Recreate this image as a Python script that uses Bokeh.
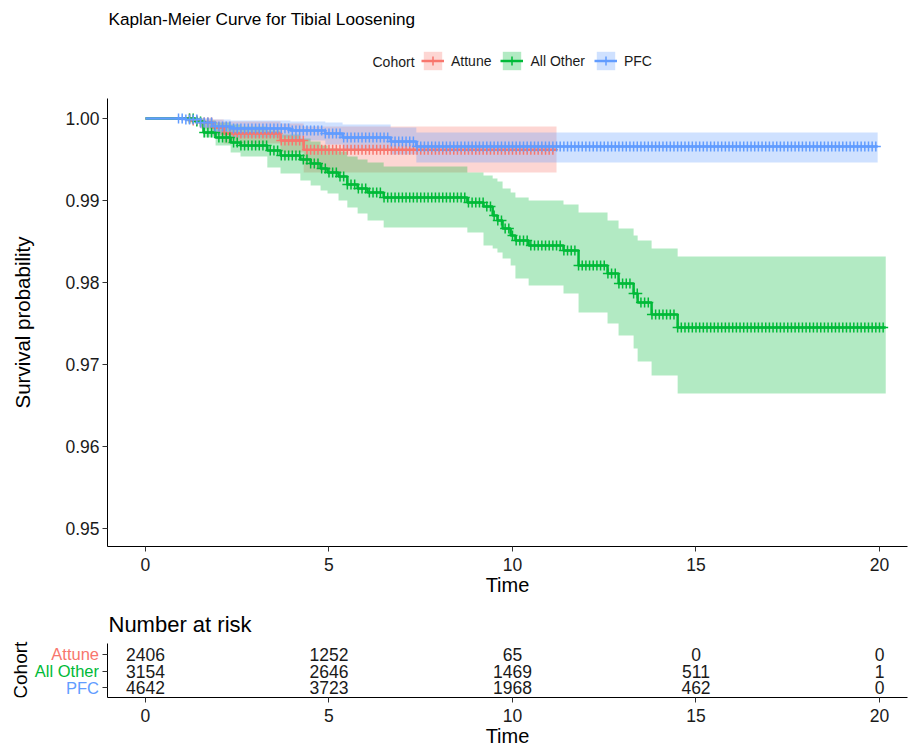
import numpy as np
from bokeh.plotting import figure
from bokeh.models import Range1d, FixedTicker, Label, Legend, LegendItem, ColumnDataSource, PrintfTickFormatter
from bokeh.layouts import column, row
from bokeh.embed import file_html
from bokeh.resources import INLINE
from bokeh.core.properties import value

FONT = "Liberation Sans"

# ---------------- data ----------------
cohorts = ["Attune", "All Other", "PFC"]
colors = {"Attune": "#F8766D", "All Other": "#00BA38", "PFC": "#619CFF"}

attune_time = [0, 1.23, 1.50, 1.83, 2.13, 3.68, 4.31, 11.20]
attune_surv = [1.0, 0.99976, 0.99951, 0.9989, 0.99817, 0.99732, 0.9962, 0.9962]
attune_lower = [1.0, 0.9994, 0.99878, 0.99793, 0.99695, 0.99585, 0.99341, 0.99341]
attune_upper = [1.0, 1.0, 1.0, 0.99988, 0.99963, 0.9994, 0.99902, 0.99902]

allother_time = [0, 1.36, 1.58, 1.91, 2.32, 2.59, 3.32, 3.68, 4.22, 4.50, 4.77, 4.96, 5.26, 5.50,
                 5.78, 6.05, 6.49, 8.77, 9.21, 9.46, 9.59, 9.73, 9.95, 10.08, 10.44, 11.39, 11.80,
                 12.59, 12.89, 13.30, 13.41, 13.79, 14.50, 20.17]
allother_surv = [1.0, 0.99963, 0.99829, 0.99768, 0.99707, 0.99671, 0.9961, 0.99549, 0.995, 0.99451,
                 0.9939, 0.99341, 0.99293, 0.99195, 0.99146, 0.99098, 0.99037, 0.98976, 0.98927,
                 0.98817, 0.98756, 0.98659, 0.98573, 0.98512, 0.98451, 0.9839, 0.98207, 0.9811,
                 0.97988, 0.97866, 0.97756, 0.9761, 0.97451, 0.97451]
allother_lower = [1.0, 0.9994, 0.99768, 0.99671, 0.99585, 0.99537, 0.99402, 0.99329, 0.99244, 0.99183,
                  0.99122, 0.99085, 0.99, 0.98915, 0.98841, 0.98756, 0.98671, 0.9861, 0.98451,
                  0.98415, 0.98366, 0.98293, 0.98207, 0.98049, 0.97963, 0.97866, 0.97634, 0.975,
                  0.97354, 0.97195, 0.97037, 0.96866, 0.96646, 0.96646]
allother_upper = [1.0, 1.0, 0.99976, 0.99951, 0.99927, 0.99902, 0.99854, 0.99805, 0.99756, 0.9972,
                  0.99671, 0.99634, 0.99598, 0.99537, 0.995, 0.99463, 0.99415, 0.99341, 0.99305,
                  0.99268, 0.99232, 0.99146, 0.99098, 0.99037, 0.99, 0.98951, 0.98854, 0.98756,
                  0.98659, 0.98573, 0.98512, 0.98415, 0.98317, 0.98317]

pfc_time = [0, 1.09, 1.50, 1.83, 2.32, 3.95, 4.90, 5.37, 6.68, 7.38, 19.95]
pfc_surv = [1.0, 0.99988, 0.99951, 0.99902, 0.99878, 0.99854, 0.99817, 0.99768, 0.9972, 0.99659, 0.99659]
pfc_lower = [1.0, 0.9996, 0.99878, 0.99805, 0.99768, 0.99732, 0.99683, 0.99622, 0.99561, 0.99463, 0.99463]
pfc_upper = [1.0, 1.0, 1.0, 0.99988, 0.99976, 0.99963, 0.99951, 0.99927, 0.9989, 0.9983, 0.9983]

attune_censor = [
    1.2, 1.3, 1.4, 1.5, 1.6, 1.7, 1.8, 1.9,
    2.0, 2.1, 2.2, 2.3, 2.4, 2.5, 2.6, 2.7, 2.8, 2.9,
    3.0, 3.1, 3.2, 3.3, 3.4, 3.5, 3.6, 3.7, 3.8, 3.9,
    4.0, 4.1, 4.2, 4.3, 4.4, 4.5, 4.6, 4.7, 4.8, 4.9,
    5.0, 5.1, 5.2, 5.3, 5.4, 5.5, 5.6, 5.7, 5.8, 5.9,
    6.0, 6.1, 6.2, 6.3, 6.4, 6.5, 6.6, 6.7, 6.8, 6.9,
    7.0, 7.1, 7.2, 7.3, 7.4, 7.5, 7.6, 7.7, 7.8, 7.9,
    8.0, 8.1, 8.2, 8.3, 8.4, 8.5, 8.6, 8.7, 8.8, 8.9,
    9.0, 9.1, 9.2, 9.3, 9.4, 9.5, 9.6, 9.7, 9.8, 9.9,
    10.0, 10.1, 10.2, 10.3, 10.4, 10.5, 10.6, 10.7, 10.8, 10.9,
    11.0, 11.1]
allother_censor = [
    1.2, 1.3, 1.4, 1.5, 1.6, 1.7, 1.8, 1.9,
    2.0, 2.1, 2.2, 2.3, 2.4, 2.5, 2.6, 2.7, 2.8, 2.9,
    3.0, 3.1, 3.2, 3.3, 3.4, 3.5, 3.6, 3.7, 3.8, 3.9,
    4.0, 4.1, 4.2, 4.3, 4.4, 4.5, 4.6, 4.7, 4.8, 4.9,
    5.0, 5.1, 5.2, 5.3, 5.4, 5.5, 5.6, 5.7, 5.8, 5.9,
    6.0, 6.1, 6.2, 6.3, 6.4, 6.5, 6.6, 6.7, 6.8, 6.9,
    7.0, 7.1, 7.2, 7.3, 7.4, 7.5, 7.6, 7.7, 7.8, 7.9,
    8.0, 8.1, 8.2, 8.3, 8.4, 8.5, 8.6, 8.7, 8.8, 8.9,
    9.0, 9.1, 9.2, 9.3, 9.4, 9.5, 9.6, 9.7, 9.8, 9.9,
    10.0, 10.1, 10.2, 10.3, 10.4, 10.5, 10.6, 10.7, 10.8, 10.9,
    11.0, 11.1, 11.2, 11.3, 11.4, 11.5, 11.6, 11.7, 11.8, 11.9,
    12.0, 12.1, 12.2, 12.3, 12.4, 12.5, 12.6, 12.7, 12.8, 12.9,
    13.0, 13.1, 13.2, 13.3, 13.4, 13.5, 13.6, 13.7, 13.8, 13.9,
    14.0, 14.1, 14.2, 14.3, 14.4, 14.5, 14.6, 14.7, 14.8, 14.9,
    15.0, 15.1, 15.2, 15.3, 15.4, 15.5, 15.6, 15.7, 15.8, 15.9,
    16.0, 16.1, 16.2, 16.3, 16.4, 16.5, 16.6, 16.7, 16.8, 16.9,
    17.0, 17.1, 17.2, 17.3, 17.4, 17.5, 17.6, 17.7, 17.8, 17.9,
    18.0, 18.1, 18.2, 18.3, 18.4, 18.5, 18.6, 18.7, 18.8, 18.9,
    19.0, 19.1, 19.2, 19.3, 19.4, 19.5, 19.6, 19.7, 19.8, 19.9,
    20.0, 20.1]
pfc_censor = [
    0.9, 1.0, 1.1, 1.2, 1.3, 1.4, 1.5, 1.6, 1.7, 1.8, 1.9,
    2.0, 2.1, 2.2, 2.3, 2.4, 2.5, 2.6, 2.7, 2.8, 2.9,
    3.0, 3.1, 3.2, 3.3, 3.4, 3.5, 3.6, 3.7, 3.8, 3.9,
    4.0, 4.1, 4.2, 4.3, 4.4, 4.5, 4.6, 4.7, 4.8, 4.9,
    5.0, 5.1, 5.2, 5.3, 5.4, 5.5, 5.6, 5.7, 5.8, 5.9,
    6.0, 6.1, 6.2, 6.3, 6.4, 6.5, 6.6, 6.7, 6.8, 6.9,
    7.0, 7.1, 7.2, 7.3, 7.4, 7.5, 7.6, 7.7, 7.8, 7.9,
    8.0, 8.1, 8.2, 8.3, 8.4, 8.5, 8.6, 8.7, 8.8, 8.9,
    9.0, 9.1, 9.2, 9.3, 9.4, 9.5, 9.6, 9.7, 9.8, 9.9,
    10.0, 10.1, 10.2, 10.3, 10.4, 10.5, 10.6, 10.7, 10.8, 10.9,
    11.0, 11.1, 11.2, 11.3, 11.4, 11.5, 11.6, 11.7, 11.8, 11.9,
    12.0, 12.1, 12.2, 12.3, 12.4, 12.5, 12.6, 12.7, 12.8, 12.9,
    13.0, 13.1, 13.2, 13.3, 13.4, 13.5, 13.6, 13.7, 13.8, 13.9,
    14.0, 14.1, 14.2, 14.3, 14.4, 14.5, 14.6, 14.7, 14.8, 14.9,
    15.0, 15.1, 15.2, 15.3, 15.4, 15.5, 15.6, 15.7, 15.8, 15.9,
    16.0, 16.1, 16.2, 16.3, 16.4, 16.5, 16.6, 16.7, 16.8, 16.9,
    17.0, 17.1, 17.2, 17.3, 17.4, 17.5, 17.6, 17.7, 17.8, 17.9,
    18.0, 18.1, 18.2, 18.3, 18.4, 18.5, 18.6, 18.7, 18.8, 18.9,
    19.0, 19.1, 19.2, 19.3, 19.4, 19.5, 19.6, 19.7, 19.8, 19.9]

risk_times = [0, 5, 10, 15, 20]
risk_attune = [2406, 1252, 65, 0, 0]
risk_allother = [3154, 2646, 1469, 511, 1]
risk_pfc = [4642, 3723, 1968, 462, 0]

x_ticks = [0, 5, 10, 15, 20]
y_ticks = [0.95, 0.96, 0.97, 0.98, 0.99, 1.00]

series = {
    "Attune": (attune_time, attune_surv, attune_lower, attune_upper, attune_censor),
    "All Other": (allother_time, allother_surv, allother_lower, allother_upper, allother_censor),
    "PFC": (pfc_time, pfc_surv, pfc_lower, pfc_upper, pfc_censor),
}
risk_rows = {"Attune": (3, risk_attune), "All Other": (2, risk_allother), "PFC": (1, risk_pfc)}


# ---------------- styling helpers ----------------
def style_axes(fig):
    fig.grid.visible = False
    fig.outline_line_color = None
    for ax in fig.axis:
        ax.axis_line_color = "black"
        ax.axis_line_width = 1
        ax.major_tick_line_color = "#333333"
        ax.major_tick_out = 5
        ax.major_tick_in = 0
        ax.minor_tick_line_color = None
        ax.major_label_text_font = FONT
        ax.major_label_text_font_size = "17.5px"
        ax.major_label_text_color = "#1a1a1a"
        ax.major_label_standoff = 3
        ax.axis_label_text_font = FONT
        ax.axis_label_text_font_size = "20px"
        ax.axis_label_text_font_style = "normal"
        ax.axis_label_text_color = "black"


def add_label(fig, text, x, y, size, color="black", align="left"):
    fig.add_layout(Label(x=x, y=y, x_units="screen", y_units="screen", text=text,
                         text_font=FONT, text_font_size=size, text_color=color,
                         text_align=align, text_baseline="middle"))


def strip_figure(width, height, y_range, border_bottom):
    f = figure(width=width, height=height, x_range=Range1d(0, width), y_range=y_range,
               output_backend="svg", toolbar_location=None,
               x_axis_location=None, y_axis_location=None,
               min_border_left=0, min_border_right=0, min_border_top=0,
               min_border_bottom=border_bottom)
    f.grid.visible = False
    f.outline_line_color = None
    return f


X0, X1 = -1.035, 20.763
H_MAIN, H_RISK = 605, 146
Y_BOT, Y_AXIS_TOP = 0.947805, 1.002439
PX_PER_Y = 8200.0
FRAME_H = 546  # frame spans from the canvas top to the x axis; header lives inside it
STRIP_W = 50   # left strip carrying the y axis title

# ---------------- main KM plot ----------------
p = figure(width=909 - STRIP_W, height=H_MAIN, x_range=Range1d(X0, X1),
           y_range=Range1d(Y_BOT, Y_BOT + FRAME_H / PX_PER_Y),
           output_backend="svg", toolbar_location=None,
           min_border_left=107 - STRIP_W, min_border_right=2, min_border_top=0,
           min_border_bottom=H_MAIN - FRAME_H)
p.xaxis.ticker = FixedTicker(ticks=x_ticks)
p.yaxis.ticker = FixedTicker(ticks=y_ticks)
p.yaxis.formatter = PrintfTickFormatter(format="%.2f")
p.yaxis.bounds = (Y_BOT, Y_AXIS_TOP)
style_axes(p)
p.xaxis.major_label_standoff = 6
p.xaxis.axis_label = "Time"
p.xaxis.axis_label_standoff = 0

band_r, line_r, cens_r = {}, {}, {}
for name in cohorts:
    t, s, lo, hi, _ = series[name]
    band_r[name] = p.varea_step(x=t, y1=lo, y2=hi, step_mode="after",
                                fill_color=colors[name], fill_alpha=0.3)
for name in cohorts:
    t, s, lo, hi, _ = series[name]
    line_r[name] = p.step(x=t, y=s, mode="after", line_color=colors[name], line_width=2.5)
for name in cohorts:
    t, s, lo, hi, cens = series[name]
    idx = np.searchsorted(np.array(t), np.array(cens), side="right") - 1
    cy = np.array(s)[idx]
    cens_r[name] = p.scatter(x=cens, y=cy, marker="cross", size=10,
                             line_color=colors[name], line_width=1.5)

legend = Legend(items=[LegendItem(label=n, renderers=[band_r[n], line_r[n], cens_r[n]]) for n in cohorts],
                orientation="horizontal", location=(314, 474),
                glyph_width=23, glyph_height=23, label_height=23, label_standoff=7, spacing=9,
                padding=0, margin=0, border_line_alpha=0, background_fill_alpha=0,
                label_text_font=FONT, label_text_font_size="14px", label_text_color="#1a1a1a")
p.add_layout(legend)

add_label(p, "Kaplan-Meier Curve for Tibial Loosening", 1, 528, "17.2px")
add_label(p, "Cohort", 265, 485, "14px", color="#1a1a1a")

# left strip with the y axis title, centred on the axis span
ylab = strip_figure(STRIP_W, H_MAIN, p.y_range, H_MAIN - FRAME_H)
ylab.text(x=[22], y=[(Y_BOT + Y_AXIS_TOP) / 2], text=["Survival probability"], angle=np.pi / 2,
          text_font=value(FONT), text_font_size="20.5px", text_color="black",
          text_align="center", text_baseline="middle")

# ---------------- risk table ----------------
RY0, RY1 = 0.441, 3.618
R_FRAME_H = 92                       # from the canvas top down to the axis (title inside)
R_PX = 54 / (RY1 - RY0)
r_yrange = Range1d(RY0, RY0 + R_FRAME_H / R_PX)
r = figure(width=810, height=H_RISK, x_range=Range1d(X0, X1), y_range=r_yrange,
           output_backend="svg", toolbar_location=None,
           min_border_left=8, min_border_right=2, min_border_top=0,
           min_border_bottom=H_RISK - R_FRAME_H)
r.xaxis.ticker = FixedTicker(ticks=x_ticks)
r.yaxis.ticker = FixedTicker(ticks=[1, 2, 3])
r.yaxis.bounds = (RY0, RY1)
style_axes(r)
r.xaxis.major_label_standoff = 6
r.xaxis.axis_label = "Time"
r.xaxis.axis_label_standoff = 0
r.yaxis.major_label_text_font_size = "1px"
r.yaxis.major_label_text_color = None
r.yaxis.major_label_standoff = 0

add_label(r, "Number at risk", 1, 73, "22px")

rx, ry, rt = [], [], []
for name in cohorts:
    rr, vals = risk_rows[name]
    for tt, v in zip(risk_times, vals):
        rx.append(tt)
        ry.append(rr)
        rt.append(str(v))
r.text(x="x", y="y", text="t", source=ColumnDataSource(dict(x=rx, y=ry, t=rt)),
       text_font=value(FONT), text_font_size="17.5px", text_color="#1a1a1a",
       text_align="center", text_baseline="middle")

# ---------------- row labels of the risk table (left strip) ----------------
lab = strip_figure(99, H_RISK, r_yrange, H_RISK - R_FRAME_H)
names_src = ColumnDataSource(dict(x=[98.5] * 3, y=[risk_rows[n][0] for n in cohorts],
                                  t=cohorts, c=[colors[n] for n in cohorts]))
lab.text(x="x", y="y", text="t", text_color="c", source=names_src,
         text_font=value(FONT), text_font_size="16.5px", text_align="right", text_baseline="middle")
lab.text(x=[20], y=[2.05], text=["Cohort"], angle=np.pi / 2,
         text_font=value(FONT), text_font_size="19px", text_color="black",
         text_align="center", text_baseline="middle")

layout = column(row(ylab, p), row(lab, r))
open("out.html", "w").write(file_html(layout, INLINE))
